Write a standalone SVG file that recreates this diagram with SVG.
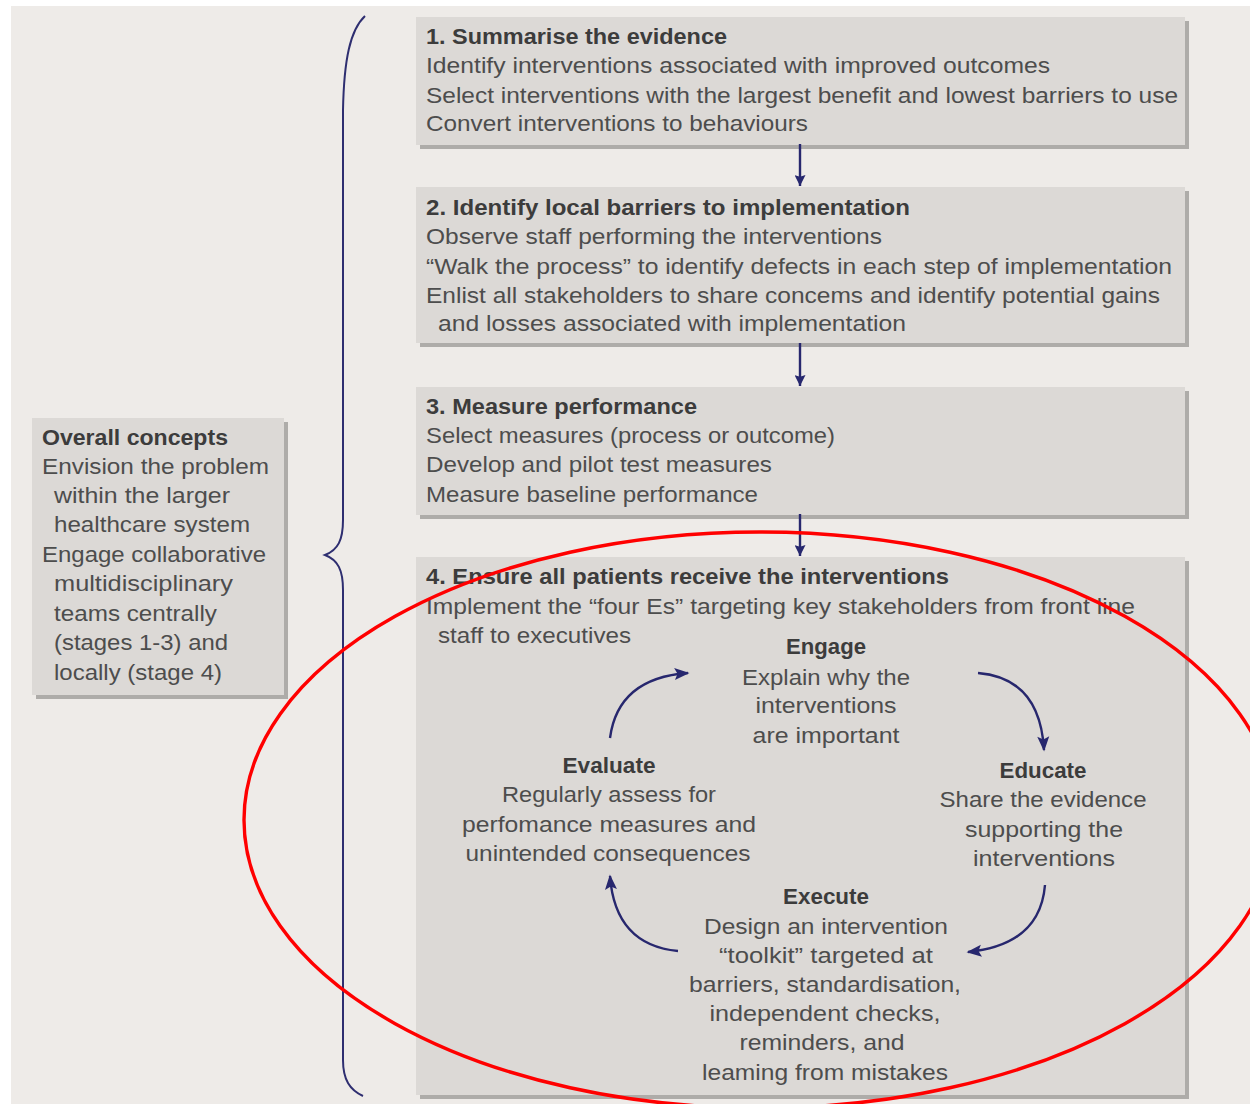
<svg xmlns="http://www.w3.org/2000/svg" width="1250" height="1104" viewBox="0 0 1250 1104">
<defs>
<marker id="ah" viewBox="0 0 10 10" refX="10" refY="5" markerWidth="18" markerHeight="11" orient="auto" markerUnits="userSpaceOnUse">
<path d="M0,0 L10,5 L0,10 L1.5,5 z" fill="#27276e"/>
</marker>
<marker id="ahc" viewBox="0 0 10 10" refX="9" refY="5" markerWidth="19" markerHeight="15" orient="auto" markerUnits="userSpaceOnUse">
<path d="M0,1 L10,5 L0,9 L2,5 z" fill="#27276e"/>
</marker>
<style>
.bg{fill:#eeebe8}
.box{fill:#dcd9d6}
.sh{fill:#aeaca9}
text{font-family:"Liberation Sans",Arial,sans-serif;font-size:21.5px;fill:#4d4d4d}
.t{font-weight:bold;fill:#3c3c3c}
.c{text-anchor:middle}
.ln{fill:none;stroke:#27276e;stroke-width:2.4}
.brace{fill:none;stroke:#2e2e70;stroke-width:2}
</style>
</defs>
<rect width="1250" height="1104" fill="#ffffff"/>
<rect class="bg" x="11" y="6" width="1239" height="1098"/>

<g id="brace">
<path class="brace" d="M365,16 C350,30 344,60 343,110 L343,520 C343,540 338,550 325,555 C338,560 343,570 343,590 L343,1060 C343,1080 350,1090 363,1096"/>
</g>

<g id="box-overall">
<rect class="sh" x="36" y="422" width="252" height="277"/>
<rect class="box" x="32" y="418" width="252" height="277"/>
<text class="t" x="42" y="445" textLength="186" lengthAdjust="spacingAndGlyphs">Overall concepts</text>
<text x="42" y="474" textLength="227" lengthAdjust="spacingAndGlyphs">Envision the problem</text>
<text x="54" y="503" textLength="176" lengthAdjust="spacingAndGlyphs">within the larger</text>
<text x="54" y="532" textLength="196" lengthAdjust="spacingAndGlyphs">healthcare system</text>
<text x="42" y="562" textLength="224" lengthAdjust="spacingAndGlyphs">Engage collaborative</text>
<text x="54" y="591" textLength="179" lengthAdjust="spacingAndGlyphs">multidisciplinary</text>
<text x="54" y="621" textLength="163" lengthAdjust="spacingAndGlyphs">teams centrally</text>
<text x="54" y="650" textLength="174" lengthAdjust="spacingAndGlyphs">(stages 1-3) and</text>
<text x="54" y="680" textLength="168" lengthAdjust="spacingAndGlyphs">locally (stage 4)</text>
</g>

<g id="box1">
<rect class="sh" x="420" y="21" width="769" height="128"/>
<rect class="box" x="416" y="17" width="769" height="128"/>
<text class="t" x="426" y="44" textLength="301" lengthAdjust="spacingAndGlyphs">1. Summarise the evidence</text>
<text x="426" y="73" textLength="624" lengthAdjust="spacingAndGlyphs">Identify interventions associated with improved outcomes</text>
<text x="426" y="103" textLength="752" lengthAdjust="spacingAndGlyphs">Select interventions with the largest benefit and lowest barriers to use</text>
<text x="426" y="131" textLength="382" lengthAdjust="spacingAndGlyphs">Convert interventions to behaviours</text>
</g>

<g id="box2">
<rect class="sh" x="420" y="191" width="769" height="156"/>
<rect class="box" x="416" y="187" width="769" height="156"/>
<text class="t" x="426" y="215" textLength="484" lengthAdjust="spacingAndGlyphs">2. Identify local barriers to implementation</text>
<text x="426" y="244" textLength="456" lengthAdjust="spacingAndGlyphs">Observe staff performing the interventions</text>
<text x="426" y="274" textLength="746" lengthAdjust="spacingAndGlyphs">“Walk the process” to identify defects in each step of implementation</text>
<text x="426" y="303" textLength="734" lengthAdjust="spacingAndGlyphs">Enlist all stakeholders to share concems and identify potential gains</text>
<text x="438" y="331" textLength="468" lengthAdjust="spacingAndGlyphs">and losses associated with implementation</text>
</g>

<g id="box3">
<rect class="sh" x="420" y="391" width="769" height="128"/>
<rect class="box" x="416" y="387" width="769" height="128"/>
<text class="t" x="426" y="414" textLength="271" lengthAdjust="spacingAndGlyphs">3. Measure performance</text>
<text x="426" y="443" textLength="409" lengthAdjust="spacingAndGlyphs">Select measures (process or outcome)</text>
<text x="426" y="472" textLength="346" lengthAdjust="spacingAndGlyphs">Develop and pilot test measures</text>
<text x="426" y="502" textLength="332" lengthAdjust="spacingAndGlyphs">Measure baseline performance</text>
</g>

<g id="box4">
<rect class="sh" x="420" y="561" width="769" height="538"/>
<rect class="box" x="416" y="557" width="769" height="538"/>
<text class="t" x="426" y="584" textLength="523" lengthAdjust="spacingAndGlyphs">4. Ensure all patients receive the interventions</text>
<text x="426" y="614" textLength="709" lengthAdjust="spacingAndGlyphs">Implement the “four Es” targeting key stakeholders from front line</text>
<text x="438" y="643" textLength="193" lengthAdjust="spacingAndGlyphs">staff to executives</text>
</g>

<g id="engage">
<text class="t c" x="826" y="654" textLength="80" lengthAdjust="spacingAndGlyphs">Engage</text>
<text class="c" x="826" y="685" textLength="168" lengthAdjust="spacingAndGlyphs">Explain why the</text>
<text class="c" x="826" y="713" textLength="141" lengthAdjust="spacingAndGlyphs">interventions</text>
<text class="c" x="826" y="743" textLength="147" lengthAdjust="spacingAndGlyphs">are important</text>
</g>

<g id="educate">
<text class="t c" x="1043" y="778" textLength="87" lengthAdjust="spacingAndGlyphs">Educate</text>
<text class="c" x="1043" y="807" textLength="207" lengthAdjust="spacingAndGlyphs">Share the evidence</text>
<text class="c" x="1044" y="837" textLength="158" lengthAdjust="spacingAndGlyphs">supporting the</text>
<text class="c" x="1044" y="866" textLength="142" lengthAdjust="spacingAndGlyphs">interventions</text>
</g>

<g id="execute">
<text class="t c" x="826" y="904" textLength="86" lengthAdjust="spacingAndGlyphs">Execute</text>
<text class="c" x="826" y="934" textLength="244" lengthAdjust="spacingAndGlyphs">Design an intervention</text>
<text class="c" x="826" y="963" textLength="214" lengthAdjust="spacingAndGlyphs">“toolkit” targeted at</text>
<text class="c" x="825" y="992" textLength="272" lengthAdjust="spacingAndGlyphs">barriers, standardisation,</text>
<text class="c" x="825" y="1021" textLength="231" lengthAdjust="spacingAndGlyphs">independent  checks,</text>
<text class="c" x="822" y="1050" textLength="165" lengthAdjust="spacingAndGlyphs">reminders, and</text>
<text class="c" x="825" y="1080" textLength="246" lengthAdjust="spacingAndGlyphs">leaming from mistakes</text>
</g>

<g id="evaluate">
<text class="t c" x="609" y="773" textLength="93" lengthAdjust="spacingAndGlyphs">Evaluate</text>
<text class="c" x="609" y="802" textLength="214" lengthAdjust="spacingAndGlyphs">Regularly assess for</text>
<text class="c" x="609" y="832" textLength="294" lengthAdjust="spacingAndGlyphs">perfomance measures and</text>
<text class="c" x="608" y="861" textLength="285" lengthAdjust="spacingAndGlyphs">unintended consequences</text>
</g>

<g id="connectors">
<line class="ln" x1="800" y1="144" x2="800" y2="186" marker-end="url(#ah)"/>
<line class="ln" x1="800" y1="343" x2="800" y2="386" marker-end="url(#ah)"/>
<line class="ln" x1="800" y1="514" x2="800" y2="556" marker-end="url(#ah)"/>
<path class="ln" d="M610,738 Q618,678 688,673" marker-end="url(#ahc)"/>
<path class="ln" d="M978,673 Q1040,678 1044,750" marker-end="url(#ahc)"/>
<path class="ln" d="M1045,885 Q1040,945 968,952" marker-end="url(#ahc)"/>
<path class="ln" d="M678,951 Q615,945 610,876" marker-end="url(#ahc)"/>
</g>

<ellipse cx="760" cy="820" rx="516" ry="288" fill="none" stroke="#ff0000" stroke-width="3.4"/>
</svg>
